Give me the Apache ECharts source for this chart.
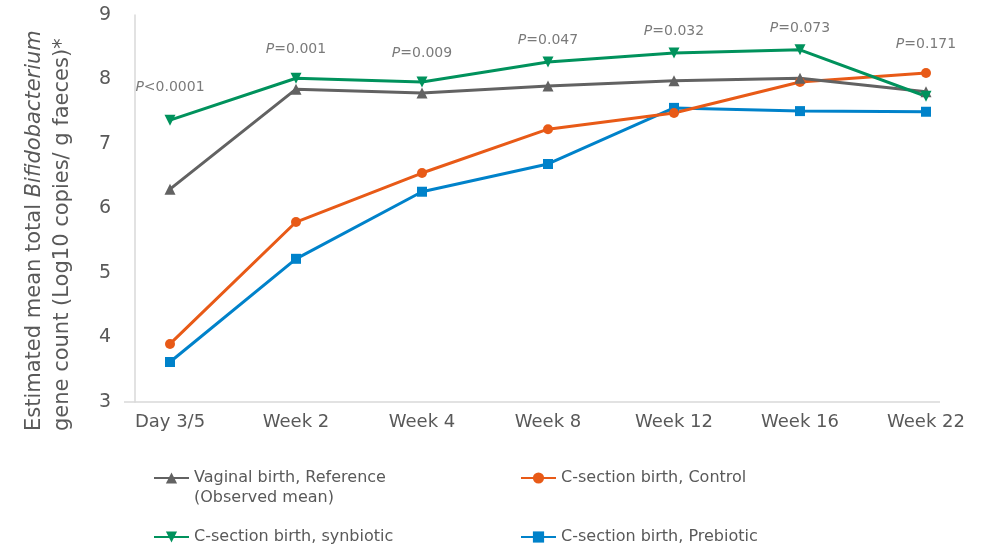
<!DOCTYPE html>
<html>
<head>
<meta charset="utf-8">
<script src="https://cdn.jsdelivr.net/npm/echarts@6/dist/echarts.min.js"></script>
<style>
html,body{margin:0;padding:0;background:#fff;}
#main{width:994px;height:547px;}
</style>
</head>
<body>
<div id="main"></div>
<script>
var categories = ['Day 3/5', 'Week 2', 'Week 4', 'Week 8', 'Week 12', 'Week 16', 'Week 22'];
var vaginalRef = [6.30, 7.85, 7.79, 7.90, 7.98, 8.02, 7.81];
var csControl = [3.90, 5.79, 6.55, 7.23, 7.48, 7.96, 8.10];
var csSynbiotic = [7.37, 8.02, 7.96, 8.27, 8.41, 8.46, 7.74];
var csPrebiotic = [3.62, 5.22, 6.26, 6.69, 7.56, 7.51, 7.50];
// p-value annotation per timepoint, and the level (y value) it sits at
var pValues = ['<0.0001', '=0.001', '=0.009', '=0.047', '=0.032', '=0.073', '=0.171'];
var pLabelLevel = [7.88, 8.47, 8.40, 8.60, 8.74, 8.80, 8.55];
var yMin = 3, yMax = 9, yStep = 1;

var textColor = '#595959';
var font = 'DejaVu Sans';

function lineSeries(name, data, color, symbol, size, rotate){
    return {
        name: name,
        type: 'line',
        data: data,
        symbol: symbol,
        symbolSize: size,
        symbolRotate: rotate || 0,
        lineStyle: {color: color, width: 3},
        itemStyle: {color: color},
        emphasis: {disabled: true},
        animation: false
    };
}

function legendBox(name, left, top, extraText){
    return {
        data: [name],
        left: left,
        top: top,
        padding: 0,
        itemWidth: 35,
        itemHeight: 14,
        selectedMode: false,
        // blank first line keeps the icon level with the first text line
        formatter: extraText ? function(n){ return ' \n' + n + '\n' + extraText; } : '{name}',
        textStyle: {color: textColor, fontFamily: font, fontSize: 16, lineHeight: 20}
    };
}

var myChart = echarts.init(document.getElementById('main'));
var option = {
    backgroundColor: '#fff',
    grid: {left: 107, right: 5, top: 15, bottom: 145},
    xAxis: {
        type: 'category',
        data: categories,
        boundaryGap: true,
        axisLine: {show: false},
        axisTick: {show: false},
        axisLabel: {color: textColor, fontFamily: font, fontSize: 18, margin: 11}
    },
    yAxis: {
        type: 'value',
        min: yMin,
        max: yMax,
        interval: yStep,
        offset: -28,
        axisLine: {show: true, lineStyle: {color: '#d9d9d9', width: 1.5}},
        axisTick: {show: false},
        splitLine: {show: false},
        axisLabel: {color: textColor, fontFamily: font, fontSize: 19, margin: 24}
    },
    legend: [
        legendBox('Vaginal birth, Reference', 153, 448, '(Observed mean)'),
        legendBox('C-section birth, Control', 520, 468),
        legendBox('C-section birth, synbiotic', 153, 527),
        legendBox('C-section birth, Prebiotic', 520, 527)
    ],
    graphic: [
        {
            type: 'line',
            shape: {x1: 124, y1: 402, x2: 940, y2: 402},
            style: {stroke: '#d9d9d9', lineWidth: 1.5},
            silent: true
        },
        {
            type: 'text',
            x: 49,
            y: 431,
            rotation: Math.PI / 2,
            silent: true,
            style: {
                text: '{n|Estimated mean total }{i|Bifidobacterium}\n{n|gene count (Log10 copies/ g faeces)*}',
                align: 'left',
                verticalAlign: 'middle',
                fill: textColor,
                rich: {
                    n: {fontFamily: font, fontSize: 21, lineHeight: 28, fill: textColor},
                    i: {fontFamily: font, fontSize: 21, lineHeight: 28, fontStyle: 'italic', fill: textColor}
                }
            }
        }
    ],
    series: [
        lineSeries('C-section birth, Prebiotic', csPrebiotic, '#0082CA', 'rect', 10),
        lineSeries('C-section birth, Control', csControl, '#E85A17', 'circle', 10),
        lineSeries('Vaginal birth, Reference', vaginalRef, '#626262', 'triangle', 11),
        lineSeries('C-section birth, synbiotic', csSynbiotic, '#00925C', 'triangle', 11, 180),
        {
            name: 'p-values',
            type: 'scatter',
            data: pLabelLevel.map(function(v, i){ return [i, v]; }),
            symbolSize: 0,
            silent: true,
            animation: false,
            label: {
                show: true,
                position: 'inside',
                formatter: function(p){ return '{i|P}{n|' + pValues[p.dataIndex] + '}'; },
                rich: {
                    i: {fontFamily: font, fontSize: 14, fontStyle: 'italic', color: textColor},
                    n: {fontFamily: font, fontSize: 14, color: textColor}
                }
            }
        }
    ]
};
myChart.setOption(option);
</script>
</body>
</html>
